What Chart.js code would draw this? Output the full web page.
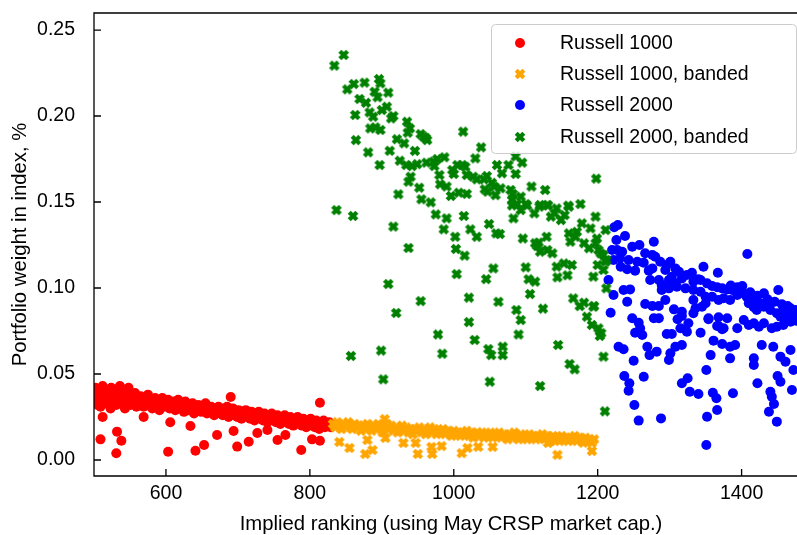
<!DOCTYPE html>
<html>
<head>
<meta charset="utf-8">
<script src="https://cdn.jsdelivr.net/npm/chart.js@4.4.0/dist/chart.umd.min.js"></script>
<style>
  html, body { margin: 0; padding: 0; background: #fff; }
  canvas { display: block; }
</style>
</head>
<body>
<canvas id="chart" width="797" height="535"></canvas>
<script>
const seriesNames = ['Russell 1000', 'Russell 1000, banded', 'Russell 2000', 'Russell 2000, banded'];
const xTicks = [600, 800, 1000, 1200, 1400];
const yTicks = [0.00, 0.05, 0.10, 0.15, 0.20, 0.25];

// [implied ranking, weight %]
const russell1000 = [
  [501,0.040],[503,0.034],[505,0.038],[507,0.036],[509,0.031],[511,0.041],[513,0.035],[515,0.037],[517,0.033],[519,0.039],
  [521,0.036],[523,0.030],[525,0.040],[527,0.034],[529,0.037],[531,0.032],[533,0.038],[535,0.035],[537,0.041],[539,0.033],
  [541,0.036],[543,0.030],[545,0.038],[547,0.034],[549,0.036],[551,0.032],[553,0.037],[555,0.035],[557,0.039],[559,0.031],
  [561,0.035],[563,0.033],[565,0.037],[567,0.034],[569,0.031],[571,0.036],[573,0.033],[575,0.038],[577,0.032],[579,0.035],
  [581,0.030],[583,0.034],[585,0.036],[587,0.032],[589,0.035],[591,0.029],[593,0.033],[595,0.036],[597,0.031],[599,0.034],
  [601,0.032],[603,0.035],[605,0.030],[607,0.033],[609,0.031],[611,0.034],[613,0.029],[615,0.032],[617,0.035],[619,0.030],
  [621,0.033],[623,0.031],[625,0.028],[627,0.034],[629,0.031],[631,0.029],[633,0.032],[635,0.030],[637,0.033],[639,0.027],
  [641,0.031],[643,0.029],[645,0.032],[647,0.030],[649,0.028],[651,0.031],[653,0.029],[655,0.033],[657,0.027],[659,0.030],
  [661,0.028],[663,0.031],[665,0.029],[667,0.026],[669,0.030],[671,0.028],[673,0.031],[675,0.027],[677,0.029],[679,0.026],
  [681,0.030],[683,0.028],[685,0.031],[687,0.025],[689,0.029],[691,0.027],[693,0.030],[695,0.026],[697,0.028],[699,0.025],
  [701,0.029],[703,0.027],[705,0.024],[707,0.028],[709,0.026],[711,0.029],[713,0.025],[715,0.027],[717,0.024],[719,0.028],
  [721,0.026],[723,0.023],[725,0.027],[727,0.025],[729,0.028],[731,0.024],[733,0.026],[735,0.023],[737,0.027],[739,0.025],
  [741,0.022],[743,0.026],[745,0.024],[747,0.027],[749,0.023],[751,0.025],[753,0.022],[755,0.026],[757,0.024],[759,0.021],
  [761,0.025],[763,0.023],[765,0.026],[767,0.022],[769,0.024],[771,0.021],[773,0.025],[775,0.023],[777,0.020],[779,0.024],
  [781,0.022],[783,0.025],[785,0.021],[787,0.023],[789,0.020],[791,0.024],[793,0.022],[795,0.019],[797,0.023],[799,0.021],
  [801,0.024],[803,0.020],[805,0.022],[807,0.019],[809,0.023],[811,0.021],[813,0.018],[815,0.022],[817,0.020],[819,0.023],
  [821,0.019],[823,0.021],[825,0.020],[827,0.022],[829,0.019],
  [502,0.042],[512,0.043],[524,0.042],[536,0.043],[548,0.042],
  [509,0.0120],[532,0.0165],[538,0.0112],[531,0.0039],[603,0.0048],[641,0.0054],[653,0.0087],[671,0.0145],[699,0.0078],
  [715,0.0106],[690,0.0366],[814,0.0333],[788,0.0058],[755,0.0116],[803,0.0120],[814,0.0112],[727,0.0157],[741,0.0174],
  [766,0.0145],[569,0.0250],[606,0.0220],[634,0.0198],[694,0.0169],[512,0.0250],[505,0.0320]
];

const russell1000Banded = [
  [832,0.021],[835,0.019],[838,0.022],[841,0.020],[844,0.018],[847,0.021],[850,0.019],[853,0.022],[856,0.020],[859,0.018],
  [862,0.021],[865,0.019],[868,0.020],[871,0.017],[874,0.020],[877,0.018],[880,0.021],[883,0.019],[886,0.017],[889,0.020],
  [892,0.018],[895,0.021],[898,0.019],[901,0.016],[904,0.019],[907,0.021],[910,0.018],[913,0.020],[916,0.017],[919,0.019],
  [922,0.016],[925,0.018],[928,0.020],[931,0.017],[934,0.019],[937,0.016],[940,0.018],[943,0.015],[946,0.018],[949,0.017],
  [952,0.019],[955,0.016],[958,0.018],[961,0.015],[964,0.017],[967,0.019],[970,0.016],[973,0.018],[976,0.015],[979,0.017],
  [982,0.016],[985,0.018],[988,0.015],[991,0.017],[994,0.016],[997,0.014],[1000,0.017],[1003,0.015],[1006,0.016],[1009,0.014],
  [1012,0.016],[1015,0.015],[1018,0.017],[1021,0.014],[1024,0.016],[1027,0.013],[1030,0.015],[1033,0.016],[1036,0.014],[1039,0.016],
  [1042,0.013],[1045,0.015],[1048,0.014],[1051,0.016],[1054,0.013],[1057,0.015],[1060,0.014],[1063,0.016],[1066,0.013],[1069,0.015],
  [1072,0.014],[1075,0.012],[1078,0.015],[1081,0.013],[1084,0.016],[1087,0.014],[1090,0.012],[1093,0.015],[1096,0.013],[1099,0.014],
  [1102,0.012],[1105,0.015],[1108,0.013],[1111,0.014],[1114,0.012],[1117,0.014],[1120,0.013],[1123,0.015],[1126,0.012],[1129,0.014],
  [1132,0.013],[1135,0.011],[1138,0.014],[1141,0.012],[1144,0.013],[1147,0.011],[1150,0.014],[1153,0.012],[1156,0.013],[1159,0.011],
  [1162,0.013],[1165,0.012],[1168,0.014],[1171,0.011],[1174,0.013],[1177,0.012],[1180,0.010],[1183,0.013],[1186,0.011],[1189,0.012],
  [1192,0.010],[1195,0.012],
  [841,0.0105],[855,0.0070],[877,0.0035],[887,0.0058],[904,0.0238],[930,0.0099],[947,0.0099],[950,0.0035],[969,0.0076],
  [970,0.0035],[983,0.0081],[1011,0.0040],[1019,0.0070],[1034,0.0076],[1054,0.0076],[1144,0.0030],[1192,0.0052],[880,0.0116],
  [905,0.0128],[1131,0.0099]
];

const russell2000 = [
  [1223,0.1353],[1228,0.1366],[1238,0.1302],[1226,0.1279],[1220,0.1221],[1227,0.1221],[1234,0.1211],[1231,0.1173],[1222,0.1163],
  [1248,0.1240],[1258,0.1250],[1266,0.1202],[1278,0.1269],[1243,0.1163],[1255,0.1153],[1264,0.1147],[1276,0.1192],[1280,0.1182],
  [1232,0.1124],[1241,0.1109],[1252,0.1101],[1271,0.1101],[1276,0.1114],[1287,0.1153],[1296,0.1134],[1301,0.1153],
  [1294,0.1105],[1308,0.1114],[1313,0.1095],[1303,0.1066],[1273,0.1047],[1285,0.1047],[1289,0.1017],[1299,0.1047],
  [1308,0.1027],[1317,0.1056],[1324,0.1076],[1331,0.1089],[1289,0.0988],[1299,0.0998],[1310,0.1008],[1322,0.0998],
  [1333,0.1037],[1340,0.1051],[1347,0.1124],[1367,0.1089],[1408,0.1198],
  [1343,0.1047],[1352,0.1027],[1359,0.1012],[1366,0.1004],[1373,0.0998],[1380,0.0992],[1387,0.0988],[1394,0.1004],[1401,0.1012],
  [1333,0.0988],[1343,0.0978],[1350,0.0949],[1359,0.0949],[1368,0.0930],[1375,0.0940],[1384,0.0930],[1394,0.0959],
  [1403,0.0969],[1407,0.0949],[1417,0.0940],[1431,0.0969],[1451,0.0988],[1440,0.0911],[1426,0.0911],
  [1410,0.0911],[1417,0.0888],[1421,0.0872],[1431,0.0891],[1440,0.0872],[1449,0.0853],[1458,0.0872],[1468,0.0882],[1475,0.0872],
  [1454,0.0833],[1463,0.0843],[1472,0.0833],[1468,0.0804],[1458,0.0785],[1449,0.0775],[1442,0.0766],
  [1333,0.0930],[1350,0.0911],[1354,0.0824],[1368,0.0830],[1380,0.0824],[1368,0.0779],[1375,0.0766],[1394,0.0766],
  [1403,0.0814],[1410,0.0785],[1417,0.0795],[1424,0.0775],[1431,0.0795],
  [1236,0.0988],[1245,0.0992],[1241,0.0920],[1222,0.0959],[1215,0.1047],[1218,0.0856],
  [1266,0.0907],[1276,0.0895],[1285,0.0895],[1306,0.0876],[1317,0.0862],[1336,0.0882],[1333,0.0853],[1345,0.0891],
  [1248,0.0824],[1257,0.0798],[1259,0.0766],[1252,0.0740],[1262,0.0727],[1278,0.0824],[1285,0.0824],[1294,0.0930],
  [1311,0.0818],[1317,0.0837],[1326,0.0795],[1324,0.0746],[1315,0.0766],[1343,0.0740],[1354,0.0818],[1366,0.0779],[1373,0.0760],
  [1296,0.0733],[1303,0.0733],[1361,0.0694],[1373,0.0674],[1384,0.0659],[1391,0.0669],
  [1229,0.0659],[1236,0.0644],[1269,0.0659],[1272,0.0610],[1282,0.0630],[1301,0.0620],[1308,0.0659],[1317,0.0669],[1299,0.0581],
  [1250,0.0577],[1357,0.0610],[1384,0.0591],[1417,0.0591],[1417,0.0552],[1428,0.0669],[1444,0.0659],[1454,0.0601],
  [1461,0.0572],[1468,0.0640],[1472,0.0523],
  [1237,0.0488],[1244,0.0446],[1243,0.0403],[1264,0.0484],[1251,0.0320],[1257,0.0229],[1288,0.0242],[1317,0.0446],
  [1325,0.0475],[1328,0.0397],[1340,0.0384],[1351,0.0523],[1360,0.0391],[1365,0.0359],[1366,0.0291],[1352,0.0252],
  [1388,0.0388],[1422,0.0446],[1438,0.0281],[1440,0.0397],[1442,0.0368],[1445,0.0326],[1449,0.0223],[1450,0.0488],
  [1454,0.0455],[1470,0.0407],[1351,0.0087],
  [1412,0.0975],[1422,0.0955],[1436,0.0935],[1446,0.0920],[1456,0.0905],[1464,0.0895],[1472,0.0860],[1478,0.0845],
  [1385,0.1015],[1398,0.0990],[1414,0.0925],[1437,0.0900],[1460,0.0815],[1476,0.0810]
];

const russell2000Banded = [
  [834,0.2293],[847,0.2355],[852,0.2155],[861,0.2186],[876,0.2194],[896,0.2215],[898,0.2190],[890,0.2141],[894,0.2109],
  [909,0.2136],[869,0.2099],[878,0.2077],[863,0.2006],[883,0.2021],[888,0.1996],[900,0.2035],[907,0.2054],[913,0.1986],
  [916,0.2000],[884,0.1928],[898,0.1919],[891,0.1934],[864,0.1860],[881,0.1789],[897,0.1715],[911,0.1798],[921,0.1865],
  [931,0.1841],[935,0.1967],[939,0.1928],[936,0.1903],[946,0.1797],[954,0.1895],[961,0.1872],[958,0.1880],[963,0.1860],
  [925,0.1740],[934,0.1715],[942,0.1709],[949,0.1720],[962,0.1729],[972,0.1735],[977,0.1750],[987,0.1760],[973,0.1709],
  [940,0.1647],[937,0.1618],[952,0.1583],[923,0.1545],[955,0.1516],[968,0.1498],[980,0.1657],[981,0.1603],[990,0.1590],
  [996,0.1535],[1007,0.1554],[1018,0.1547],[998,0.1686],[1000,0.1663],[1005,0.1715],[1012,0.1715],[1016,0.1705],
  [1013,0.1909],[1030,0.1754],[1038,0.1818],[1018,0.1657],[1027,0.1647],[1032,0.1632],[1042,0.1632],[1046,0.1651],
  [1043,0.1574],[1047,0.1560],[1053,0.1612],[1056,0.1590],[1058,0.1540],[1060,0.1715],[1067,0.1667],[1076,0.1715],
  [1086,0.1663],[1095,0.1729],[1086,0.1764],[1065,0.1580],[1079,0.1570],[1082,0.1547],[1081,0.1512],[1088,0.1488],
  [1093,0.1531],[1108,0.1590],[1127,0.1570],[1100,0.1488],[1120,0.1483],[1130,0.1483],[1143,0.1463],[1159,0.1479],
  [1176,0.1488],[1198,0.1636],[837,0.1453],
  [860,0.1419],[916,0.1357],[937,0.1233],[909,0.1023],[954,0.0924],[920,0.0855],[857,0.0605],[899,0.0636],[902,0.0469],
  [975,0.1428],[990,0.1405],[986,0.1341],[1002,0.1298],[1014,0.1419],[1023,0.1341],[1032,0.1298],[1003,0.1227],
  [1015,0.1188],[1004,0.1081],[1021,0.0944],[1021,0.0802],[1029,0.0698],[978,0.0730],[984,0.0618],[1049,0.1372],
  [1059,0.1318],[1064,0.1314],[1055,0.1114],[1045,0.1052],[1062,0.0920],[1048,0.0645],[1052,0.0610],[1068,0.0659],
  [1068,0.0610],[1050,0.0455],[1087,0.0872],[1093,0.0814],[1090,0.0730],[1096,0.1288],[1100,0.1120],[1104,0.1051],
  [1113,0.1037],[1106,0.0965],[1124,0.0880],[1083,0.1405],[1081,0.1480],[1093,0.1453],[1102,0.1480],[1112,0.1434],
  [1119,0.1473],[1131,0.1480],[1113,0.1260],[1120,0.1211],[1130,0.1221],[1137,0.1202],[1118,0.1264],[1116,0.1244],
  [1129,0.1298],[1135,0.1415],[1140,0.1434],[1149,0.1395],[1154,0.1424],[1160,0.1473],[1143,0.1124],[1153,0.1143],
  [1164,0.1134],[1144,0.1062],[1158,0.1074],[1160,0.1318],[1169,0.1298],[1178,0.1376],[1162,0.1269],[1171,0.1327],
  [1181,0.1260],[1188,0.1231],[1197,0.1260],[1199,0.1288],[1190,0.1347],[1197,0.1415],[1211,0.1337],[1201,0.1221],
  [1208,0.1192],[1212,0.1163],[1200,0.1134],[1208,0.1105],[1194,0.1066],[1212,0.0998],[1166,0.0940],[1175,0.0895],
  [1181,0.0915],[1195,0.0895],[1185,0.0833],[1192,0.0785],[1201,0.0766],[1205,0.0737],[1203,0.0721],[1145,0.0669],
  [1161,0.0558],[1168,0.0527],[1208,0.0601],[1120,0.0430],[1210,0.0283],[1204,0.1202],[1211,0.1153],[1194,0.0892]
];

function crossMarker(color) {
  const c = document.createElement('canvas');
  c.width = 12; c.height = 12;
  const g = c.getContext('2d');
  g.translate(6, 6);
  g.rotate(Math.PI / 4);
  g.fillStyle = color;
  g.fillRect(-5.4, -2.1, 10.8, 4.2);
  g.fillRect(-2.1, -5.4, 4.2, 10.8);
  return c;
}

const colors = ['#ff0000', '#ffa500', '#0000ff', '#008000'];
const markers = ['circle', crossMarker(colors[1]), 'circle', crossMarker(colors[3])];
const fontFamily = '"Liberation Sans", Arial, sans-serif';
const font = { family: fontFamily, size: 19.5 };

function toPoints(list) { return list.map(p => ({ x: p[0], y: p[1] })); }

const frame = {
  id: 'frame',
  afterDraw(chart) {
    const { ctx, chartArea: a, scales: { x, y } } = chart;
    ctx.save();
    ctx.strokeStyle = '#000';
    ctx.lineWidth = 1.3;
    ctx.beginPath();
    ctx.moveTo(a.right + 2, a.top); ctx.lineTo(a.left, a.top);
    ctx.lineTo(a.left, a.bottom); ctx.lineTo(a.right + 2, a.bottom);
    ctx.stroke();
    ctx.beginPath();
    xTicks.forEach(v => { const px = x.getPixelForValue(v); ctx.moveTo(px, a.bottom); ctx.lineTo(px, a.bottom - 7); });
    yTicks.forEach(v => { const py = y.getPixelForValue(v); ctx.moveTo(a.left, py); ctx.lineTo(a.left + 7, py); });
    ctx.stroke();

    // legend box
    ctx.fillStyle = 'rgba(255,255,255,0.8)';
    ctx.strokeStyle = '#cccccc';
    ctx.lineWidth = 1;
    ctx.beginPath();
    ctx.roundRect(491.5, 24.5, 305, 129, 4);
    ctx.fill(); ctx.stroke();
    ctx.font = font.size + 'px ' + fontFamily;
    ctx.textBaseline = 'middle';
    ctx.textAlign = 'left';
    const rows = [43, 74, 105, 137];
    seriesNames.forEach((name, i) => {
      const my = rows[i];
      if (markers[i] === 'circle') {
        ctx.fillStyle = colors[i];
        ctx.beginPath(); ctx.arc(520, my, 5, 0, Math.PI * 2); ctx.fill();
      } else {
        ctx.drawImage(markers[i], 514, my - 6);
      }
      ctx.fillStyle = '#000';
      ctx.fillText(name, 560, my + 1);
    });

    // axis titles
    ctx.font = '20.3px ' + fontFamily;
    ctx.fillStyle = '#000';
    ctx.textBaseline = 'alphabetic';
    ctx.textAlign = 'center';
    ctx.fillText('Implied ranking (using May CRSP market cap.)', 451, 530);
    ctx.translate(26, (a.top + a.bottom) / 2);
    ctx.rotate(-Math.PI / 2);
    ctx.fillText('Portfolio weight in index, %', 0, 0);
    ctx.restore();
  }
};

const data = [russell1000, russell1000Banded, russell2000, russell2000Banded];
const drawOrder = [3, 2, 1, 0];

new Chart(document.getElementById('chart').getContext('2d'), {
  type: 'scatter',
  data: {
    datasets: data.map((d, i) => ({
      label: seriesNames[i],
      data: toPoints(d),
      backgroundColor: colors[i],
      borderWidth: 0,
      pointRadius: 5,
      pointStyle: markers[i],
      order: drawOrder[i],
      clip: 0
    }))
  },
  options: {
    responsive: false,
    animation: false,
    layout: { autoPadding: false, padding: { left: 0, top: 13, right: 0, bottom: 0 } },
    plugins: { legend: { display: false }, tooltip: { enabled: false } },
    scales: {
      x: {
        min: 500, max: 1477,
        afterBuildTicks: s => { s.ticks = xTicks.map(v => ({ value: v })); },
        afterFit: s => { s.height = 59; s.paddingLeft = 0; s.paddingRight = 0; },
        grid: { display: false, drawTicks: false },
        border: { display: false },
        ticks: { color: '#000', font, padding: 6, maxRotation: 0, callback: v => String(v) }
      },
      y: {
        min: -0.0093, max: 0.2599,
        afterBuildTicks: s => { s.ticks = yTicks.map(v => ({ value: v })); },
        afterFit: s => { s.width = 94; s.paddingTop = 0; s.paddingBottom = 0; },
        grid: { display: false, drawTicks: false },
        border: { display: false },
        ticks: { color: '#000', font, padding: 19, callback: v => Number(v).toFixed(2) }
      }
    }
  },
  plugins: [frame]
});
</script>
</body>
</html>
